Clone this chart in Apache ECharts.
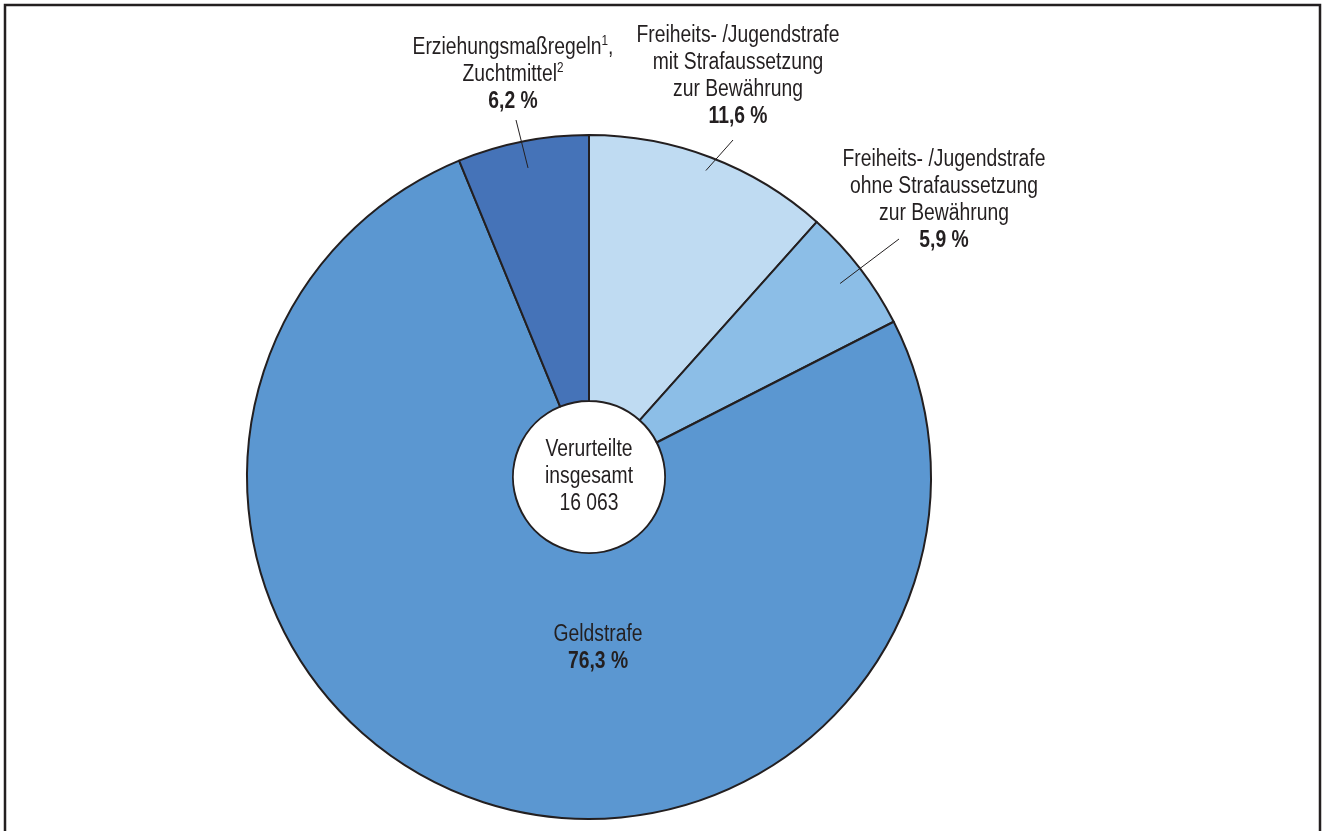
<!DOCTYPE html>
<html>
<head>
<meta charset="utf-8">
<script src="https://cdn.jsdelivr.net/npm/echarts@6/dist/echarts.min.js"></script>
<style>
html,body{margin:0;padding:0;background:#fff;}
#main{width:1322px;height:831px;}
</style>
</head>
<body>
<div id="main"></div>
<script>
// ---- data ----
const categories = [
  'Freiheits- /Jugendstrafe mit Strafaussetzung zur Bewährung',
  'Freiheits- /Jugendstrafe ohne Strafaussetzung zur Bewährung',
  'Geldstrafe',
  'Erziehungsmaßregeln, Zuchtmittel'
];
const values = [11.6, 5.9, 76.3, 6.2];
const colors = ['#bfdbf2', '#8cbee7', '#5b97d1', '#4573b8'];
const centerLines = ['Verurteilte', 'insgesamt', '16 063'];

// ---- layout ----
const FONT = "'Liberation Sans',Arial,sans-serif";
const NARROW = 0.84; // emulate a condensed face
const TXT = '#231f20';
const CX = 589, CY = 477, R_IN = 76, R_OUT = 342;
const labelTexts = [
  '{n|Freiheits- /Jugendstrafe}\n{n|mit Strafaussetzung}\n{n|zur Bewährung}\n{b|11,6 %}',
  '{n|Freiheits- /Jugendstrafe}\n{n|ohne Strafaussetzung}\n{n|zur Bewährung}\n{b|5,9 %}',
  '{n|Geldstrafe}\n{b|76,3 %}',
  '{n|Erziehungsmaßregeln}{s|1}{n|,}\n{n|Zuchtmittel}{s|2}\n{b|6,2 %}'
];
const labelPos = [[738, 76], [944, 200], [598, 648], [513, 75]];
const leaderEnd = [[733, 140], [899, 239], null, [516, 120]];
const leaderInnerR = [328, 317, null, 315];
const rich = {
  n: {fontFamily: FONT, fontSize: 23, lineHeight: 27, fill: TXT, color: TXT},
  b: {fontFamily: FONT, fontSize: 23, lineHeight: 27, fill: TXT, color: TXT, fontWeight: 'bold'},
  s: {fontFamily: FONT, fontSize: 14, lineHeight: 27, fill: TXT, color: TXT, verticalAlign: 'top'}
};

const chart = echarts.init(document.getElementById('main'));

const total = values.reduce((a, b) => a + b, 0);
const graphics = [];
let cum = 0;
values.forEach((v, i) => {
  const mid = (cum + v / 2) / total * Math.PI * 2;
  cum += v;
  // label text
  graphics.push({
    type: 'text', z: 100, x: labelPos[i][0], y: labelPos[i][1], scaleX: NARROW,
    style: {text: labelTexts[i], rich: rich, align: 'center', verticalAlign: 'middle', fill: TXT}
  });
  if (!leaderEnd[i]) return;
  const r = leaderInnerR[i];
  const x1 = CX + r * Math.sin(mid), y1 = CY - r * Math.cos(mid);
  graphics.push({
    type: 'line', z: 100,
    shape: {x1: x1, y1: y1, x2: leaderEnd[i][0], y2: leaderEnd[i][1]},
    style: {stroke: TXT, lineWidth: 1}
  });
});
// frame
graphics.push({
  type: 'rect', z: 0, silent: true,
  shape: {x: 5, y: 5, width: 1315, height: 845},
  style: {fill: 'none', stroke: TXT, lineWidth: 2.5}
});
// center text
graphics.push({
  type: 'text', z: 100, x: CX, y: CY, scaleX: NARROW,
  style: {
    text: centerLines.join('\n'), align: 'center', verticalAlign: 'middle',
    font: '23px ' + FONT, lineHeight: 27, fill: TXT
  }
});

const option = {
  backgroundColor: '#ffffff',
  animation: false,
  graphic: graphics,
  series: [{
    type: 'pie',
    center: [CX, CY],
    radius: [R_IN, R_OUT],
    startAngle: 90,
    clockwise: true,
    avoidLabelOverlap: false,
    itemStyle: {borderColor: TXT, borderWidth: 2},
    emphasis: {disabled: true},
    label: {show: false},
    labelLine: {show: false},
    data: categories.map((c, i) => ({
      name: c, value: values[i], itemStyle: {color: colors[i]}
    }))
  }]
};
chart.setOption(option);
</script>
</body>
</html>
